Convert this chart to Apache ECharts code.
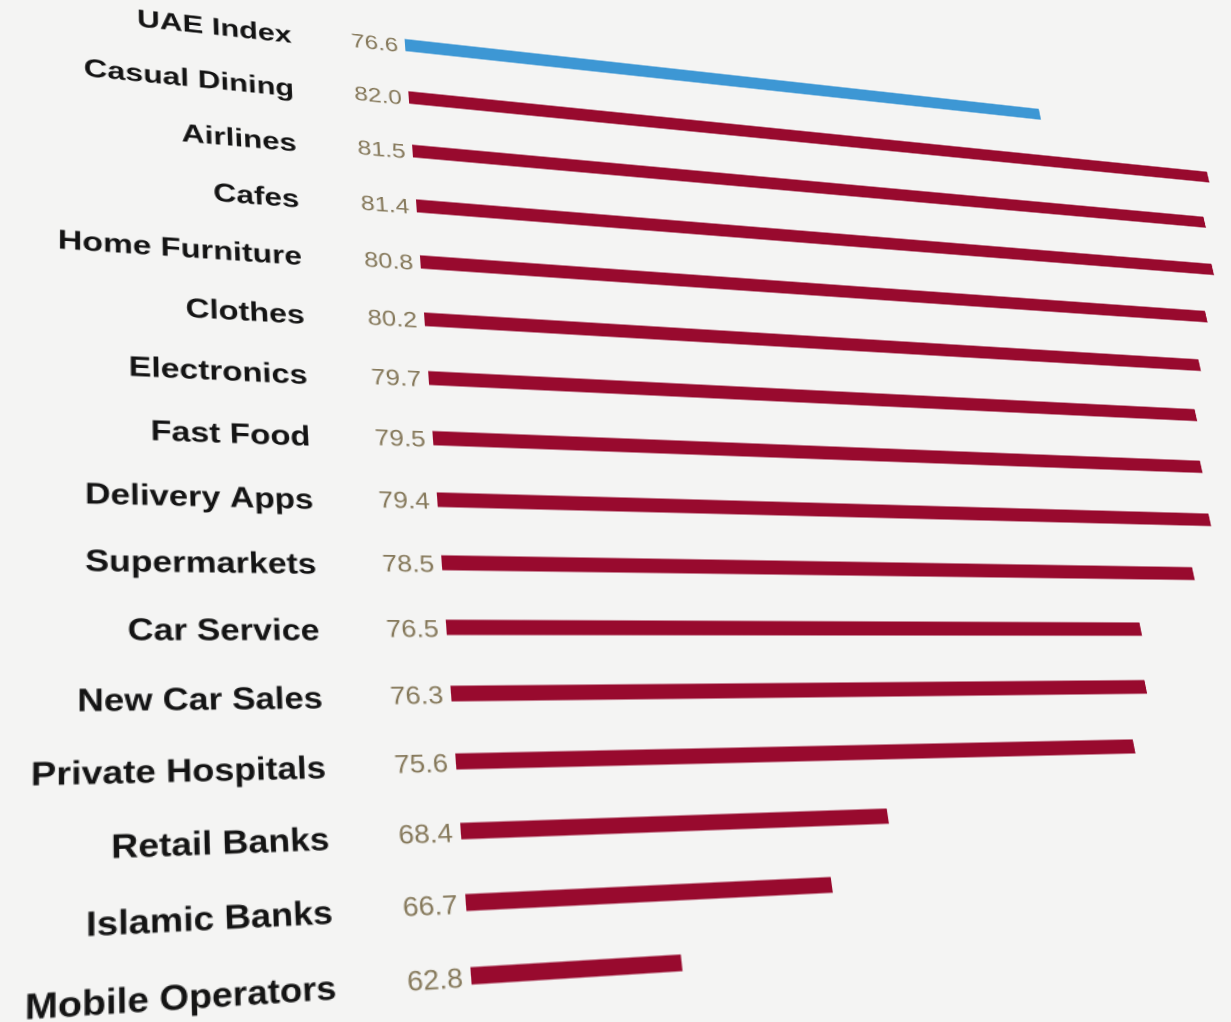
<!DOCTYPE html>
<html>
<head>
<meta charset="utf-8">
<script src="https://cdn.jsdelivr.net/npm/echarts@6/dist/echarts.min.js"></script>
<style>
  html, body { margin: 0; padding: 0; width: 1231px; height: 1022px; overflow: hidden; background: #f4f4f3; }
  #page { position: absolute; left: 0; top: 0; width: 1420px; height: 1070px; transform-origin: 0 0; }
</style>
</head>
<body>
<div id="page"></div>
<script>
// Customer satisfaction scores by sector
const categories = [
  'UAE Index', 'Casual Dining', 'Airlines', 'Cafes', 'Home Furniture', 'Clothes',
  'Electronics', 'Fast Food', 'Delivery Apps', 'Supermarkets', 'Car Service',
  'New Car Sales', 'Private Hospitals', 'Retail Banks', 'Islamic Banks', 'Mobile Operators'
];
const values = [76.6, 82.0, 81.5, 81.4, 80.8, 80.2, 79.7, 79.5, 79.4, 78.5, 76.5, 76.3, 75.6, 68.4, 66.7, 62.8];
const highlighted = ['UAE Index'];
const axisRange = [58, 83.3];

// The printed page is seen at an angle: rows run toward one vanishing point,
// the bar baseline toward another.
const ROW_VANISH = [5862, 641];
const COL_VANISH = [70, -4680];
const FIRST_ROW_START = [405, 45];
const LAST_ROW_START = [471, 975];

const FONT = '"Liberation Sans", Arial, Helvetica, sans-serif';
const el = document.getElementById('page');
const chart = echarts.init(el, null, { renderer: 'canvas', devicePixelRatio: 2 });

chart.setOption({
  animation: false,
  backgroundColor: 'transparent',
  grid: { left: 420, top: 20, width: 983, height: 1024, containLabel: false },
  xAxis: {
    type: 'value', min: axisRange[0], max: axisRange[1],
    axisLine: { show: false }, axisTick: { show: false }, axisLabel: { show: false }, splitLine: { show: false }
  },
  yAxis: {
    type: 'category', data: categories, inverse: true,
    axisLine: { show: false }, axisTick: { show: false },
    axisLabel: {
      margin: 112,
      formatter: name => '{n|' + name + '}',
      rich: {
        n: { fontSize: 29, fontWeight: 'bold', color: '#141414', fontFamily: FONT, padding: [9, 0, 0, 0] }
      }
    }
  },
  series: [{
    type: 'bar',
    barWidth: 15,
    data: values.map((v, i) => ({
      value: v,
      itemStyle: { color: highlighted.includes(categories[i]) ? '#3d97d4' : '#980a2e' }
    })),
    label: {
      show: true, position: 'left', distance: 7,
      formatter: p => '{v|' + Number(p.value).toFixed(1) + '}',
      rich: {
        v: { fontSize: 24, color: '#85785a', fontFamily: FONT, padding: [6, 0, 0, 0] }
      }
    }
  }]
});

// Tilt the flat chart into place with a projective transform.
function tiltPage() {
  const p0 = chart.convertToPixel({ xAxisIndex: 0, yAxisIndex: 0 }, [axisRange[0], 0]);
  const pN = chart.convertToPixel({ xAxisIndex: 0, yAxisIndex: 0 }, [axisRange[0], categories.length - 1]);
  const X0 = p0[0], Y0 = p0[1], YN = pN[1];
  const a = 1 / Math.hypot(ROW_VANISH[0] - FIRST_ROW_START[0], ROW_VANISH[1] - FIRST_ROW_START[1]);
  const betaN = (LAST_ROW_START[0] - FIRST_ROW_START[0]) / (COL_VANISH[0] - LAST_ROW_START[0]);
  const b = betaN / (YN - Y0);
  const h11 = ROW_VANISH[0] * a, h12 = COL_VANISH[0] * b;
  const h21 = ROW_VANISH[1] * a, h22 = COL_VANISH[1] * b;
  const h13 = FIRST_ROW_START[0] - h11 * X0 - h12 * Y0;
  const h23 = FIRST_ROW_START[1] - h21 * X0 - h22 * Y0;
  const h31 = a, h32 = b, h33 = 1 - a * X0 - b * Y0;
  el.style.transform = 'matrix3d(' + [h11, h21, 0, h31, h12, h22, 0, h32, 0, 0, 1, 0, h13, h23, 0, h33].join(',') + ')';
}
tiltPage();
</script>
</body>
</html>
